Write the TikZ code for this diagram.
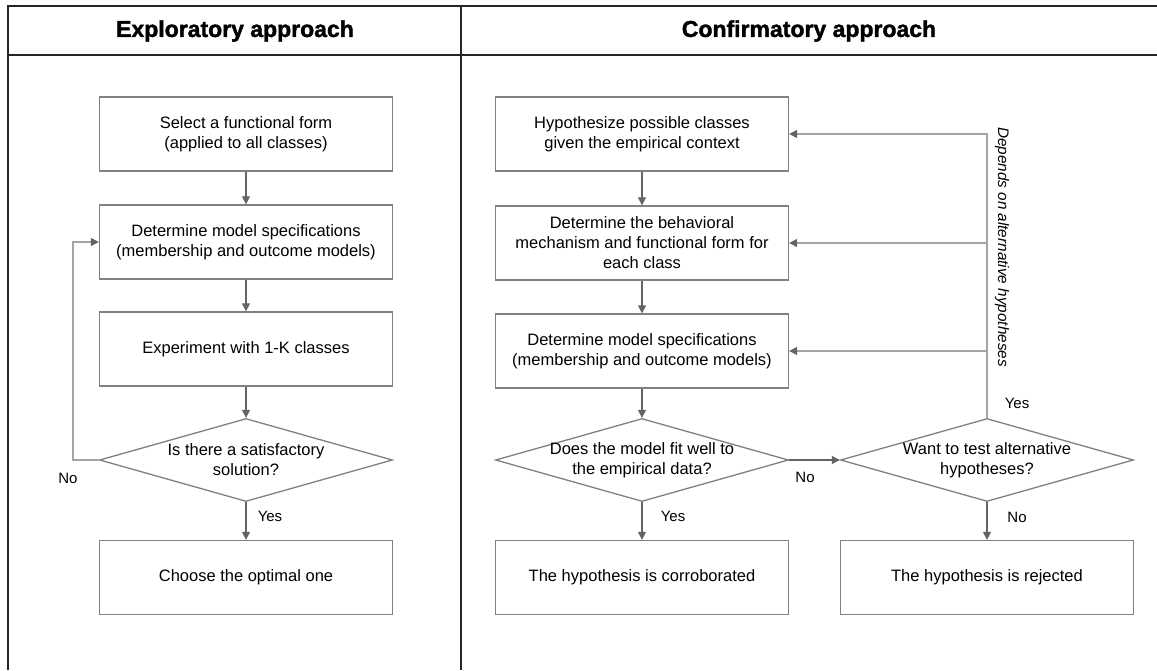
\documentclass[tikz,border=0pt]{standalone}
\usepackage{fontspec}
\setmainfont{Liberation Sans}
\newfontfamily\headfont[FakeBold=1.6]{Liberation Sans Bold}
\usetikzlibrary{arrows.meta, shapes.geometric}
\definecolor{frameink}{RGB}{38, 38, 38}
\definecolor{boxgray}{RGB}{128, 128, 128}
\definecolor{linkgray}{RGB}{100, 100, 100}
\definecolor{loopgray}{RGB}{165, 165, 165}

\begin{document}
\begin{tikzpicture}[x=1pt, y=-1pt,
    stepbox/.style={draw=boxgray, line width=1.3pt, fill=white, minimum width=293pt,
        minimum height=74pt, inner sep=0pt, align=center, font=\fontsize{16.5}{20}\selectfont},
    decision/.style={diamond, draw=boxgray, line width=1.3pt, fill=white,
        minimum width=293pt, minimum height=83pt, inner sep=0pt},
    qtext/.style={align=center, font=\fontsize{16.5}{20}\selectfont},
    link/.style={draw=linkgray, line width=1.2pt, -{Triangle[length=8pt, width=8pt]}},
    backlink/.style={draw=loopgray, line width=1.2pt},
    backarrow/.style={backlink, -{Triangle[length=8pt, width=8pt, color=linkgray]}},
    answer/.style={font=\fontsize{15}{18}\selectfont}]

        \useasboundingbox (0,0) rectangle (1157,670);

        % Frame
        \draw[frameink, line width=2pt] (8,670) -- (8,6) -- (1157,6);
        \draw[frameink, line width=2pt] (8,55) -- (1157,55);
        \draw[frameink, line width=2pt] (461,6) -- (461,670);
        \node[font=\fontsize{23}{28}\headfont] (lhead) at (235,31) {Exploratory approach};
        \node[font=\fontsize{23}{28}\headfont] (rhead) at (809,31) {Confirmatory approach};

        % Exploratory column
        \node[stepbox] (sel) at (246,134) {Select a functional form\\(applied to all classes)};
        \node[stepbox] (detl) at (246,242) {Determine model specifications\\(membership and outcome models)};
        \node[stepbox] (expt) at (246,349) {Experiment with 1-K classes};
        \node[decision, label={[qtext]center:{Is there a satisfactory\\solution?}}] (satq) at (246,460) {};
        \node[stepbox] (opt) at (246,577.5) {Choose the optimal one};

        \draw[link] (sel) -- (detl);
        \draw[link] (detl) -- (expt);
        \draw[link] (expt) -- (satq);
        \draw[link] (satq) -- (opt);
        \coordinate (lbend) at (73,460);
        \draw[backarrow] (satq.west) -- (lbend) |- (detl.west);
        \node[answer] (lno) at (68,478) {No};
        \node[answer] (lyes) at (270,516) {Yes};

        % Confirmatory column
        \node[stepbox] (hyp) at (642,134) {Hypothesize possible classes\\given the empirical context};
        \node[stepbox] (mech) at (642,243) {Determine the behavioral\\mechanism and functional form for\\each class};
        \node[stepbox] (detr) at (642,351) {Determine model specifications\\(membership and outcome models)};
        \node[decision, label={[qtext]center:{Does the model fit well to\\the empirical data?}}] (fitq) at (642,460) {};
        \node[stepbox] (corr) at (642,577.5) {The hypothesis is corroborated};
        \node[decision, label={[qtext]center:{Want to test alternative\\hypotheses?}}] (altq) at (987,460) {};
        \node[stepbox] (rej) at (987,577.5) {The hypothesis is rejected};

        \draw[link] (hyp) -- (mech);
        \draw[link] (mech) -- (detr);
        \draw[link] (detr) -- (fitq);
        \draw[link] (fitq) -- (corr);
        \draw[link] (fitq) -- (altq);
        \draw[link] (altq) -- (rej);
        \node[answer] (ryes) at (673,516) {Yes};
        \node[answer] (rno) at (805,477) {No};
        \node[answer] (ano) at (1017,517) {No};

        % Loop back to the hypotheses
        \coordinate (rtop) at (987,134);
        \draw[backarrow] (altq.north) -- (rtop) -- (hyp.east);
        \draw[backarrow] (altq.north |- mech.east) -- (mech.east);
        \draw[backarrow] (altq.north |- detr.east) -- (detr.east);
        \node[answer] (ayes) at (1017,403) {Yes};
        \node[font=\fontsize{15.3}{18}\selectfont\itshape, rotate=-90] (dep) at (1002,247) {Depends on alternative hypotheses};

    \end{tikzpicture}
\end{document}
